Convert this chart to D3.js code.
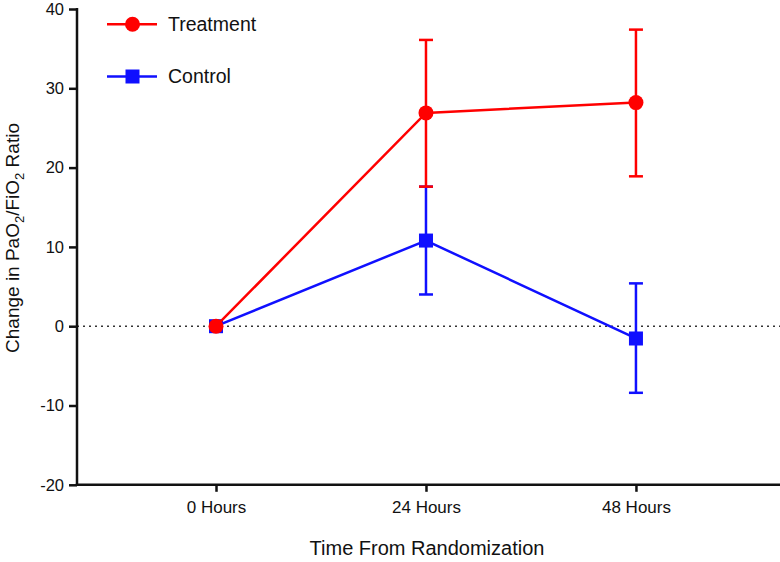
<!DOCTYPE html>
<html><head><meta charset="utf-8">
<script src="https://cdn.jsdelivr.net/npm/d3@7"></script>
<style>body{margin:0;background:#fff}svg{display:block}text{font-family:"Liberation Sans",Arial,sans-serif}</style>
</head><body><svg id="c" width="780" height="562"></svg>
<script>
const categories = ["0 Hours", "24 Hours", "48 Hours"];
const treatmentMean = [0, 26.9, 28.2];
const treatmentLow = [0, 17.6, 18.9];
const treatmentHigh = [0, 36.1, 37.4];
const controlMean = [0, 10.8, -1.55];
const controlLow = [0, 4.0, -8.4];
const controlHigh = [0, 17.6, 5.4];
const yTicks = [-20, -10, 0, 10, 20, 30, 40];
const seriesNames = ["Treatment", "Control"];
const seriesColors = ["#ff0000", "#1010ff"];

const svg = d3.select("#c");
const x = d3.scaleLinear().domain([-0.662, 2.686]).range([77, 780]);
const y = d3.scaleLinear().domain([-20, 40]).range([484.8, 9]);

// zero line
svg.append("line").attr("x1", x(-0.662)).attr("x2", 780).attr("y1", y(0)).attr("y2", y(0))
  .attr("stroke", "#333").attr("stroke-width", 1.5).attr("stroke-dasharray", "2,4");

// y axis
const ya = svg.append("g").attr("transform", "translate(77,0)")
  .call(d3.axisLeft(y).tickValues(yTicks).tickSize(8).tickPadding(5).tickFormat(d => String(d)));
ya.select(".domain").attr("stroke", "#111").attr("stroke-width", 2.5).attr("d", `M0,${y(40)-1}V${y(-20)}`);
ya.selectAll(".tick line").attr("stroke", "#111").attr("stroke-width", 2.5);
ya.selectAll(".tick text").attr("font-size", 16.5).attr("fill", "#111").attr("font-family", "Liberation Sans, Arial, sans-serif");

// x axis
const xa = svg.append("g").attr("transform", `translate(0,${y(-20)})`)
  .call(d3.axisBottom(x).tickValues([0, 1, 2]).tickSize(7).tickPadding(9).tickFormat(i => categories[i]));
xa.select(".domain").attr("stroke", "#111").attr("stroke-width", 2.5).attr("d", `M${x(-0.662)-1.2},0H780`);
xa.selectAll(".tick line").attr("stroke", "#111").attr("stroke-width", 2.5);
xa.selectAll(".tick text").attr("font-size", 17).attr("fill", "#111").attr("font-family", "Liberation Sans, Arial, sans-serif");

// axis titles
svg.append("text").attr("x", 427).attr("y", 555).attr("text-anchor", "middle")
  .attr("font-size", 20).attr("fill", "#111").text("Time From Randomization");
const yt = svg.append("text").attr("transform", `translate(19,238) rotate(-90)`)
  .attr("text-anchor", "middle").attr("font-size", 19).attr("fill", "#111");
yt.append("tspan").text("Change in PaO");
yt.append("tspan").attr("font-size", 13).attr("dy", 5).text("2");
yt.append("tspan").attr("dy", -5).text("/FiO");
yt.append("tspan").attr("font-size", 13).attr("dy", 5).text("2");
yt.append("tspan").attr("dy", -5).text(" Ratio");

const series = [
  {name: seriesNames[1], color: seriesColors[1], mean: controlMean, lo: controlLow, hi: controlHigh, shape: "square"},
  {name: seriesNames[0], color: seriesColors[0], mean: treatmentMean, lo: treatmentLow, hi: treatmentHigh, shape: "circle"}
];
const line = d3.line().x((d, i) => x(i)).y(d => y(d));
const capW = 7;
function marker(g, shape, cx, cy, color) {
  if (shape === "circle") g.append("circle").attr("cx", cx).attr("cy", cy).attr("r", 7.5).attr("fill", color);
  else g.append("rect").attr("x", cx - 7).attr("y", cy - 7).attr("width", 14).attr("height", 14).attr("fill", color);
}
series.forEach(s => {
  const g = svg.append("g");
  s.mean.forEach((m, i) => {
    if (s.hi[i] === s.lo[i]) return;
    g.append("line").attr("x1", x(i)).attr("x2", x(i)).attr("y1", y(s.lo[i])).attr("y2", y(s.hi[i]))
      .attr("stroke", s.color).attr("stroke-width", 2.5);
    [s.lo[i], s.hi[i]].forEach(v => g.append("line").attr("x1", x(i) - capW).attr("x2", x(i) + capW)
      .attr("y1", y(v)).attr("y2", y(v)).attr("stroke", s.color).attr("stroke-width", 2.5));
  });
  g.append("path").attr("d", line(s.mean)).attr("fill", "none").attr("stroke", s.color).attr("stroke-width", 2.5);
  s.mean.forEach((m, i) => marker(g, s.shape, x(i), y(m), s.color));
});

// legend
const legend = [
  {name: seriesNames[0], color: seriesColors[0], shape: "circle", y: 24.3},
  {name: seriesNames[1], color: seriesColors[1], shape: "square", y: 76.5}
];
legend.forEach(l => {
  const g = svg.append("g");
  g.append("line").attr("x1", 107).attr("x2", 157).attr("y1", l.y).attr("y2", l.y).attr("stroke", l.color).attr("stroke-width", 2.5);
  marker(g, l.shape, 132.5, l.y, l.color);
  g.append("text").attr("x", 168).attr("y", l.y + 6.8).attr("font-size", 19.5).attr("fill", "#111").text(l.name);
});
</script></body></html>
